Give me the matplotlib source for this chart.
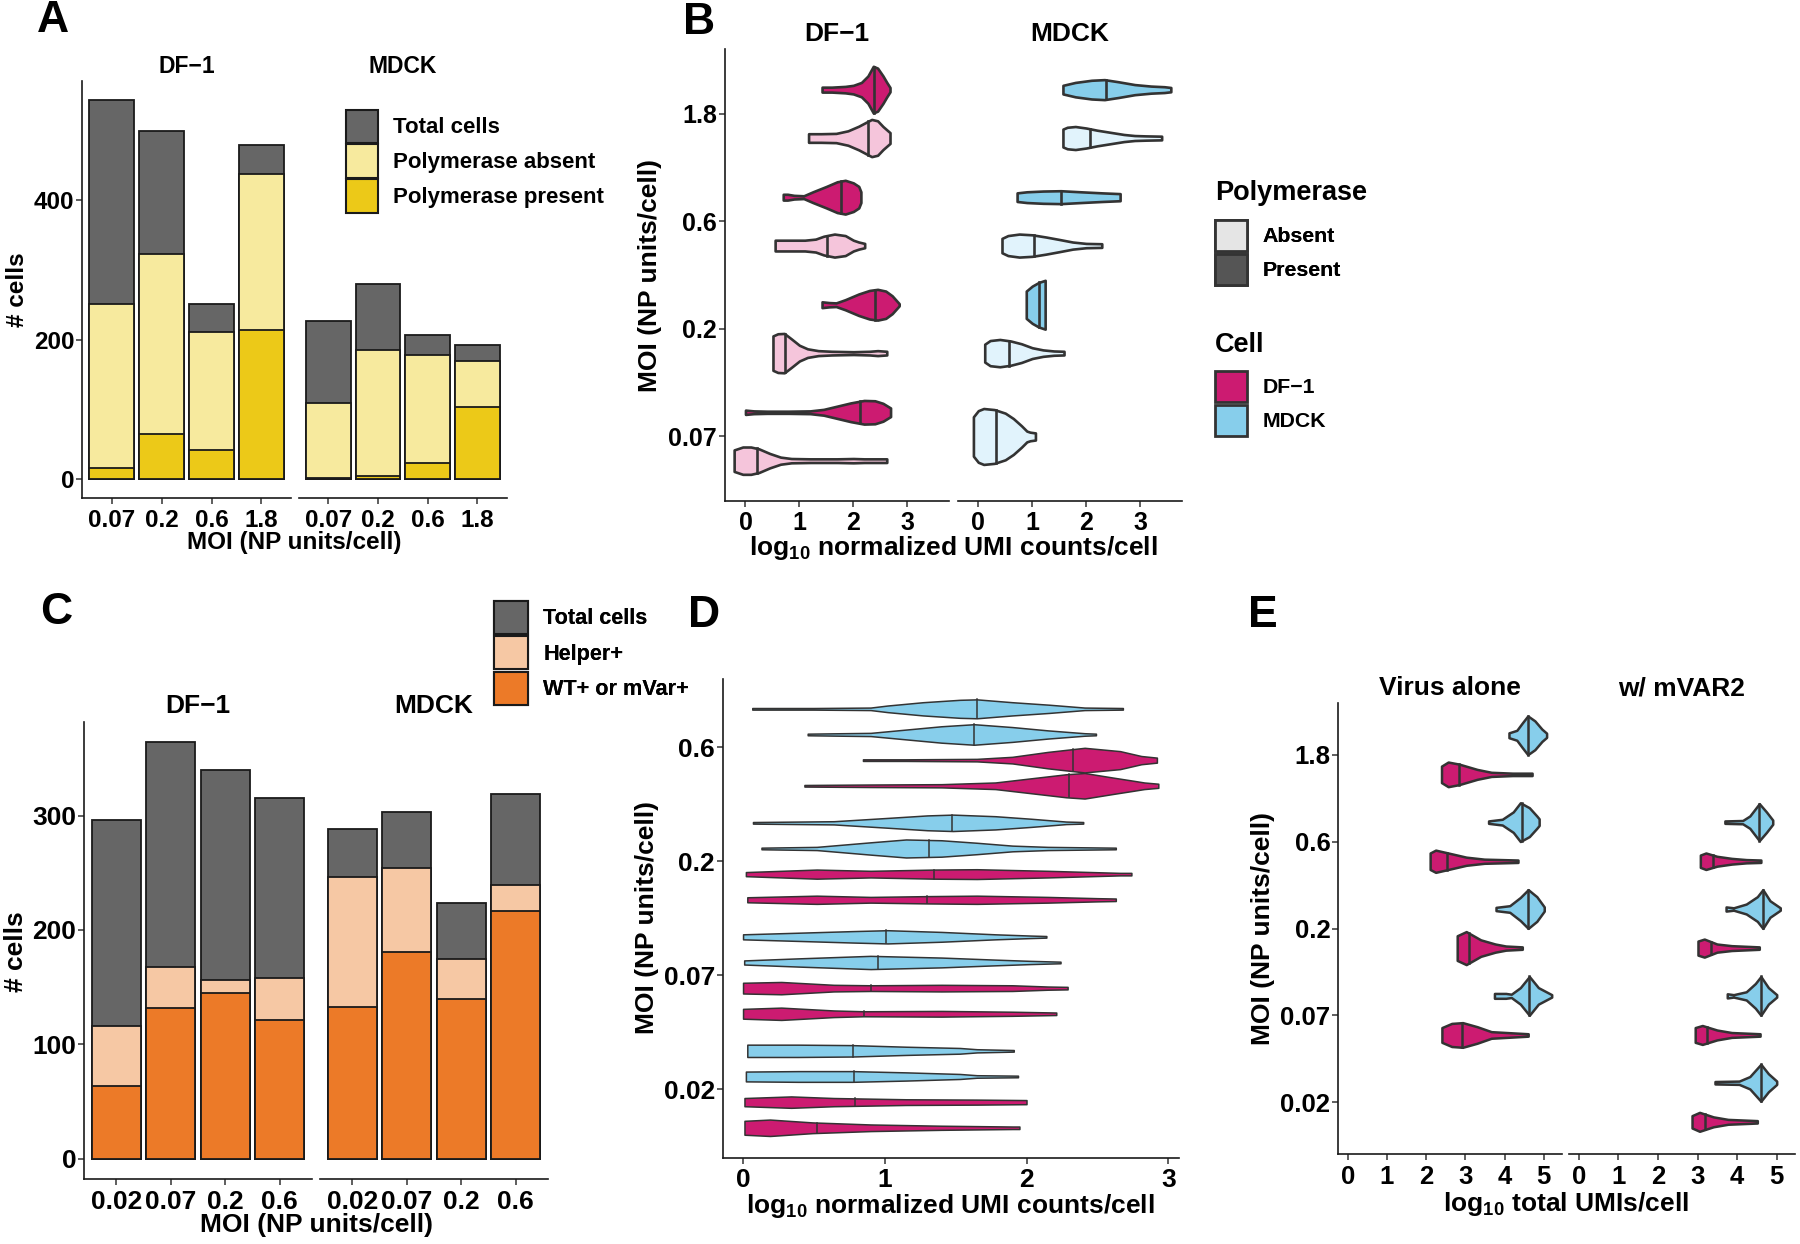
import numpy as np
import matplotlib
matplotlib.use("Agg")
from matplotlib import pyplot as plt
from matplotlib.patches import Patch

plt.rcParams['font.family'] = ['Liberation Sans', 'DejaVu Sans']
plt.rcParams['font.weight'] = 'bold'
plt.rcParams['axes.labelweight'] = 'bold'
plt.rcParams['mathtext.fontset'] = 'custom'
plt.rcParams['mathtext.rm'] = 'Liberation Sans:bold'
plt.rcParams['mathtext.it'] = 'Liberation Sans:bold'
plt.rcParams['mathtext.bf'] = 'Liberation Sans:bold'
plt.rcParams['mathtext.default'] = 'rm'

GREY = '#666666'
YEL_ABS, YEL_PRES = '#F7EA9E', '#ECC918'
ORG_HELP, ORG_WT = '#F6C8A4', '#EC7A28'
MAG, MAG_LIGHT = '#CC1B71', '#F5C5DB'
SKY, SKY_LIGHT = '#87CEEB', '#E1F3FC'
EDGE = '#333333'

# ---------------- panel A: cell counts, polymerase ----------------
a_moi = ['0.07', '0.2', '0.6', '1.8']
a_df1_total = [544, 500, 251, 479]
a_df1_absent = [251, 323, 211, 438]
a_df1_present = [16, 64, 42, 214]
a_mdck_total = [226, 280, 207, 192]
a_mdck_absent = [109, 185, 178, 169]
a_mdck_present = [1, 4, 23, 103]

# ---------------- panel B: violins, per MOI (0.07, 0.2, 0.6, 1.8) ----------------
b_moi = ['0.07', '0.2', '0.6', '1.8']
b_df1_pres_x = [[0.0, 0.15, 0.4, 0.8, 1.2, 1.45, 1.7, 1.95, 2.2, 2.4, 2.55, 2.69],
                [1.42, 1.55, 1.68, 1.85, 2.1, 2.3, 2.45, 2.6, 2.72, 2.85],
                [0.70, 0.78, 0.9, 1.08, 1.25, 1.5, 1.7, 1.85, 2.0, 2.1, 2.14],
                [1.42, 1.6, 1.85, 2.0, 2.15, 2.27, 2.37, 2.45, 2.55, 2.62, 2.68]]
b_df1_pres_w = [[0.02, 0.013, 0.01, 0.01, 0.013, 0.027, 0.057, 0.087, 0.11, 0.107, 0.083, 0.04],
                [0.027, 0.02, 0.017, 0.047, 0.1, 0.133, 0.143, 0.127, 0.083, 0.01],
                [0.027, 0.027, 0.017, 0.013, 0.05, 0.1, 0.143, 0.157, 0.133, 0.1, 0.05],
                [0.023, 0.023, 0.03, 0.04, 0.067, 0.127, 0.217, 0.2, 0.127, 0.067, 0.02]]
b_df1_pres_med = [2.13, 2.40, 1.78, 2.39]
b_df1_abs_x = [[-0.21, -0.05, 0.1, 0.25, 0.45, 0.65, 0.85, 1.2, 1.7, 2.0, 2.2, 2.62],
               [0.51, 0.6, 0.72, 0.85, 1.0, 1.15, 1.35, 1.6, 2.0, 2.3, 2.45, 2.62],
               [0.55, 0.8, 1.1, 1.3, 1.45, 1.65, 1.85, 2.0, 2.1, 2.21],
               [1.17, 1.4, 1.68, 1.9, 2.1, 2.25, 2.34, 2.45, 2.55, 2.68]]
b_df1_abs_w = [[0.1, 0.127, 0.127, 0.11, 0.067, 0.033, 0.02, 0.017, 0.017, 0.02, 0.017, 0.017],
               [0.16, 0.18, 0.183, 0.133, 0.073, 0.04, 0.023, 0.017, 0.013, 0.017, 0.023, 0.017],
               [0.05, 0.05, 0.05, 0.06, 0.087, 0.107, 0.093, 0.05, 0.033, 0.02],
               [0.04, 0.04, 0.043, 0.067, 0.11, 0.15, 0.173, 0.16, 0.107, 0.05]]
b_df1_abs_med = [0.21, 0.74, 1.51, 2.28]
b_mdck_pres_x = [None,
                 [0.89, 1.0, 1.12, 1.24],
                 [0.72, 0.9, 1.2, 1.53, 1.9, 2.3, 2.63],
                 [1.57, 1.8, 2.1, 2.34, 2.6, 2.9, 3.2, 3.45, 3.57]]
b_mdck_pres_w = [None,
                 [0.127, 0.173, 0.207, 0.227],
                 [0.04, 0.05, 0.057, 0.06, 0.05, 0.04, 0.033],
                 [0.04, 0.067, 0.087, 0.093, 0.073, 0.047, 0.033, 0.027, 0.02]]
b_mdck_pres_med = [None, 1.13, 1.53, 2.36]
b_mdck_abs_x = [[-0.09, 0.0, 0.1, 0.3, 0.5, 0.65, 0.8, 0.9, 0.96, 1.06],
                [0.12, 0.22, 0.4, 0.6, 0.8, 1.0, 1.2, 1.4, 1.59],
                [0.44, 0.55, 0.76, 1.0, 1.25, 1.5, 1.75, 2.0, 2.29],
                [1.57, 1.65, 1.8, 2.0, 2.2, 2.45, 2.7, 2.9, 3.1, 3.4]]
b_mdck_abs_w = [[0.183, 0.24, 0.26, 0.25, 0.217, 0.167, 0.1, 0.05, 0.04, 0.033],
                [0.083, 0.117, 0.127, 0.113, 0.087, 0.05, 0.03, 0.02, 0.017],
                [0.067, 0.093, 0.107, 0.1, 0.08, 0.057, 0.033, 0.02, 0.017],
                [0.083, 0.1, 0.107, 0.093, 0.073, 0.053, 0.033, 0.023, 0.02, 0.017]]
b_mdck_abs_med = [0.32, 0.57, 1.04, 2.07]

# ---------------- panel C: cell counts, helper / WT ----------------
c_moi = ['0.02', '0.07', '0.2', '0.6']
c_df1_total = [296, 364, 340, 315]
c_df1_helper = [116, 168, 156, 158]
c_df1_wt = [64, 132, 145, 121]
c_mdck_total = [288, 303, 224, 319]
c_mdck_helper = [246, 254, 175, 239]
c_mdck_wt = [133, 181, 140, 217]

# ---------------- panel D: violins, per MOI (0.02, 0.07, 0.2, 0.6) ----------------
d_moi = ['0.02', '0.07', '0.2', '0.6']
d_df1_b_x = [[0.01, 0.19, 0.49, 0.9, 1.4, 1.9, 1.95],
             [0.0, 0.27, 0.64, 0.85, 1.4, 1.9, 2.21],
             [0.03, 0.52, 0.9, 1.3, 1.65, 2.15, 2.5, 2.63],
             [0.433, 0.9, 1.4, 1.78, 2.03, 2.28, 2.41, 2.61, 2.76, 2.83, 2.93]]
d_df1_b_w = [[0.061, 0.072, 0.047, 0.029, 0.018, 0.011, 0.011],
             [0.043, 0.054, 0.029, 0.022, 0.025, 0.018, 0.011],
             [0.022, 0.036, 0.025, 0.032, 0.036, 0.025, 0.014, 0.011],
             [0.007, 0.011, 0.014, 0.029, 0.065, 0.101, 0.112, 0.072, 0.043, 0.029, 0.018]]
d_df1_b_med = [0.52, 0.85, 1.30, 2.30]
d_df1_a_x = [[0.01, 0.34, 0.64, 1.15, 1.65, 2.0],
             [0.0, 0.27, 0.64, 0.9, 1.4, 1.9, 2.15, 2.29],
             [0.02, 0.52, 0.9, 1.35, 1.65, 2.15, 2.66, 2.74],
             [0.846, 1.15, 1.65, 1.9, 2.15, 2.41, 2.66, 2.81, 2.92]]
d_df1_a_w = [[0.036, 0.05, 0.036, 0.025, 0.022, 0.018],
             [0.047, 0.054, 0.029, 0.025, 0.029, 0.025, 0.014, 0.011],
             [0.018, 0.04, 0.029, 0.04, 0.043, 0.029, 0.011, 0.011],
             [0.007, 0.007, 0.011, 0.029, 0.072, 0.108, 0.079, 0.036, 0.022]]
d_df1_a_med = [0.79, 0.90, 1.35, 2.33]
d_mdck_a_x = [[0.02, 0.39, 0.77, 1.15, 1.53, 1.65, 1.94],
              [0.008, 0.39, 0.9, 1.4, 1.78, 2.03, 2.24],
              [0.13, 0.52, 0.9, 1.15, 1.4, 1.65, 1.9, 2.15, 2.63],
              [0.456, 0.7, 0.9, 1.15, 1.4, 1.63, 1.9, 2.15, 2.41, 2.49]]
d_mdck_a_w = [[0.043, 0.047, 0.047, 0.036, 0.022, 0.011, 0.007],
              [0.018, 0.036, 0.058, 0.043, 0.025, 0.014, 0.007],
              [0.007, 0.014, 0.054, 0.079, 0.072, 0.05, 0.025, 0.014, 0.007],
              [0.007, 0.011, 0.014, 0.043, 0.072, 0.09, 0.065, 0.036, 0.011, 0.007]]
d_mdck_a_med = [0.78, 0.95, 1.31, 1.63]
d_mdck_b_x = [[0.03, 0.39, 0.77, 1.15, 1.53, 1.65, 1.91],
              [0.0, 0.39, 0.77, 1.02, 1.4, 1.78, 2.03, 2.14],
              [0.07, 0.64, 1.02, 1.3, 1.48, 1.78, 2.03, 2.28, 2.4],
              [0.065, 0.5, 0.9, 1.02, 1.27, 1.53, 1.65, 1.9, 2.16, 2.41, 2.68]]
d_mdck_b_w = [[0.054, 0.054, 0.05, 0.036, 0.025, 0.014, 0.007],
              [0.022, 0.036, 0.05, 0.058, 0.043, 0.022, 0.011, 0.007],
              [0.007, 0.014, 0.043, 0.065, 0.072, 0.058, 0.036, 0.011, 0.007],
              [0.007, 0.007, 0.011, 0.029, 0.058, 0.079, 0.083, 0.058, 0.036, 0.011, 0.007]]
d_mdck_b_med = [0.775, 1.01, 1.475, 1.65]

# ---------------- panel E: violins, per MOI (0.02, 0.07, 0.2, 0.6, 1.8) ----------------
e_moi = ['0.02', '0.07', '0.2', '0.6', '1.8']
e_va_df1_x = [None,
              [2.4, 2.65, 2.93, 3.3, 3.66, 4.6],
              [2.79, 3.02, 3.39, 3.76, 4.03, 4.45],
              [2.1, 2.24, 2.56, 3.02, 3.48, 4.34],
              [2.39, 2.56, 2.84, 3.3, 3.66, 4.2, 4.7]]
e_va_df1_w = [None,
              [0.085, 0.133, 0.142, 0.095, 0.038, 0.014],
              [0.142, 0.19, 0.095, 0.047, 0.024, 0.014],
              [0.095, 0.128, 0.095, 0.047, 0.024, 0.014],
              [0.095, 0.142, 0.118, 0.057, 0.024, 0.014, 0.014]]
e_va_df1_med = [None, 2.91, 3.08, 2.54, 2.84]
e_va_mdck_x = [None,
               [3.74, 4.03, 4.17, 4.4, 4.63, 4.86, 5.2],
               [3.78, 4.13, 4.4, 4.6, 4.82, 5.01],
               [3.59, 3.94, 4.22, 4.4, 4.63, 4.82, 4.88],
               [4.11, 4.31, 4.45, 4.59, 4.77, 4.95, 5.07]]
e_va_mdck_w = [None,
               [0.028, 0.028, 0.019, 0.095, 0.223, 0.095, 0.014],
               [0.019, 0.038, 0.133, 0.223, 0.142, 0.024],
               [0.014, 0.033, 0.118, 0.223, 0.166, 0.071, 0.038],
               [0.028, 0.057, 0.142, 0.223, 0.166, 0.071, 0.024]]
e_va_mdck_med = [None, 4.63, 4.60, 4.43, 4.59]
e_mv_df1_x = [[2.86, 3.05, 3.4, 3.77, 4.51],
              [2.94, 3.12, 3.49, 3.86, 4.58],
              [3.01, 3.17, 3.49, 3.86, 4.56],
              [3.07, 3.21, 3.49, 3.86, 4.23, 4.6],
              None]
e_mv_df1_w = [[0.071, 0.109, 0.057, 0.028, 0.014],
              [0.085, 0.109, 0.057, 0.028, 0.014],
              [0.081, 0.104, 0.047, 0.028, 0.014],
              [0.071, 0.095, 0.057, 0.033, 0.019, 0.014],
              None]
e_mv_df1_med = [3.19, 3.23, 3.35, 3.40, None]
e_mv_mdck_x = [[3.44, 4.05, 4.32, 4.6, 4.79, 5.0],
               [3.75, 3.91, 4.23, 4.46, 4.6, 4.79, 5.0],
               [3.72, 3.91, 4.23, 4.51, 4.65, 4.83, 5.09],
               [3.69, 4.14, 4.32, 4.56, 4.74, 4.9],
               None]
e_mv_mdck_w = [[0.014, 0.019, 0.071, 0.213, 0.104, 0.019],
               [0.024, 0.014, 0.047, 0.142, 0.223, 0.095, 0.014],
               [0.024, 0.014, 0.057, 0.142, 0.223, 0.095, 0.014],
               [0.014, 0.019, 0.071, 0.213, 0.118, 0.024],
               None]
e_mv_mdck_med = [4.60, 4.60, 4.65, 4.56, None]

W, H = 1800, 1244
fig = plt.figure(figsize=(18, 12.44), dpi=100)


def add_ax(x0, y0, x1, y1):
    return fig.add_axes([x0 / W, 1 - y1 / H, (x1 - x0) / W, (y1 - y0) / H])


def ftext(x, y, s, ha='center', **kw):
    fig.text(x / W, 1 - y / H, s, ha=ha, va='center', **kw)


def clean(ax, size, yaxis=True, xpad=3.5):
    ax.spines['top'].set_visible(False)
    ax.spines['right'].set_visible(False)
    for s in ('left', 'bottom'):
        ax.spines[s].set_linewidth(1.2)
        ax.spines[s].set_color('#1a1a1a')
    ax.tick_params(axis='both', length=4, width=1.1, color='#333333', labelsize=size)
    ax.tick_params(axis='x', pad=xpad)
    ax.tick_params(axis='y', pad=1.5)
    if not yaxis:
        ax.spines['left'].set_visible(False)
        ax.tick_params(axis='y', left=False, labelleft=False)


def strip(ax, s, y, size):
    ax.text(0.5, y, s, transform=ax.transAxes, ha='center', va='center', fontsize=size)


def bars(ax, layers, colours, labels):
    x = np.arange(len(labels))
    for vals, col in zip(layers, colours):
        ax.bar(x, vals, width=0.9, color=col, edgecolor='#1a1a1a', linewidth=1.3)
    ax.set_xticks(x, labels)
    ax.set_xlim(-0.6, len(labels) - 0.4)


def violin(ax, yc, xs, ws, med, colour, lw):
    xs = np.asarray(xs)
    ws = np.asarray(ws)
    ax.fill_between(xs, yc - ws, yc + ws, facecolor=colour, edgecolor=EDGE,
                    linewidth=lw, joinstyle='round', zorder=2)
    wm = np.interp(med, xs, ws)
    ax.plot([med, med], [yc - wm, yc + wm], color=EDGE, lw=lw, zorder=3)


def violin_pairs(ax, lower, upper, off, lw):
    # lower / upper: (xs list, ws list, med list, colour)
    n = len(lower[0])
    for i in range(n):
        lo = lower[0][i] is not None
        up = upper[0][i] is not None
        y = i + 1
        if lo:
            violin(ax, y - off if up else y, lower[0][i], lower[1][i], lower[2][i], lower[3], lw)
        if up:
            violin(ax, y + off if lo else y, upper[0][i], upper[1][i], upper[2][i], upper[3], lw)


def key_legend(handles, x, y, fs, hl, hh, ls, pad):
    return fig.legend(handles=handles, loc='upper left', bbox_to_anchor=(x / W, 1 - y / H),
                      frameon=False, fontsize=fs, handlelength=hl, handleheight=hh,
                      labelspacing=ls, handletextpad=pad, borderpad=0, borderaxespad=0)


# ======== A ========
a1 = add_ax(81.9, 81.4, 291.4, 497.5)
a2 = add_ax(298.5, 81.4, 507.3, 497.5)
for ax, lay in ((a1, (a_df1_total, a_df1_absent, a_df1_present)),
                (a2, (a_mdck_total, a_mdck_absent, a_mdck_present))):
    bars(ax, lay, (GREY, YEL_ABS, YEL_PRES), a_moi)
    ax.set_ylim(-26.7, 570.7)
    ax.set_yticks([0, 200, 400])
clean(a1, 17.5, xpad=4)
clean(a2, 17.5, yaxis=False, xpad=4)
strip(a1, 'DF\u22121', 1.037, 16.5)
strip(a2, 'MDCK', 1.037, 16.5)
ftext(294.6, 542.5, 'MOI (NP units/cell)', fontsize=17.5)
ftext(17.8, 290, '# cells', fontsize=17.5, rotation=90)
ftext(53, 21, 'A', fontsize=32)
key_legend([Patch(facecolor=GREY, edgecolor='#1a1a1a', lw=1.5, label='Total cells'),
            Patch(facecolor=YEL_ABS, edgecolor='#1a1a1a', lw=1.5, label='Polymerase absent'),
            Patch(facecolor=YEL_PRES, edgecolor='#1a1a1a', lw=1.5, label='Polymerase present')],
           346, 109.6, 16, 1.44, 1.95, 0.05, 0.68)

# ======== B ========
b1 = add_ax(724.7, 49.3, 948.8, 501)
b2 = add_ax(957.5, 49.3, 1181.6, 501)
violin_pairs(b1, (b_df1_abs_x, b_df1_abs_w, b_df1_abs_med, MAG_LIGHT),
             (b_df1_pres_x, b_df1_pres_w, b_df1_pres_med, MAG), 0.225, 1.9)
violin_pairs(b2, (b_mdck_abs_x, b_mdck_abs_w, b_mdck_abs_med, SKY_LIGHT),
             (b_mdck_pres_x, b_mdck_pres_w, b_mdck_pres_med, SKY), 0.225, 1.9)
for ax in (b1, b2):
    ax.set_xlim(-0.385, 3.77)
    ax.set_ylim(0.4, 4.6)
    ax.set_xticks([0, 1, 2, 3])
    ax.set_yticks([1, 2, 3, 4], b_moi)
clean(b1, 18)
clean(b2, 18, yaxis=False)
strip(b1, 'DF\u22121', 1.034, 19)
strip(b2, 'MDCK', 1.034, 19)
ftext(953, 548, 'log$_{10}$ normalized UMI counts/cell', fontsize=19)
ftext(650, 275, 'MOI (NP units/cell)', fontsize=19, rotation=90)
ftext(699, 22.5, 'B', fontsize=32)
ftext(1215, 193, 'Polymerase', ha='left', fontsize=19.5)
ftext(1215, 345, 'Cell', ha='left', fontsize=19.5)
fig.add_artist(key_legend([Patch(facecolor='#E5E5E5', edgecolor=EDGE, lw=2, label='Absent'),
                           Patch(facecolor='#555555', edgecolor=EDGE, lw=2, label='Present')],
                          1215, 220, 15.3, 1.5, 1.87, 0.14, 0.75))
key_legend([Patch(facecolor=MAG, edgecolor=EDGE, lw=2, label='DF\u22121'),
            Patch(facecolor=SKY, edgecolor=EDGE, lw=2, label='MDCK')],
           1215, 371, 15.3, 1.5, 1.87, 0.14, 0.75)

# ======== C ========
c1 = add_ax(83.8, 721.9, 312.4, 1179.3)
c2 = add_ax(319.5, 721.9, 548.4, 1179.3)
for ax, lay in ((c1, (c_df1_total, c_df1_helper, c_df1_wt)),
                (c2, (c_mdck_total, c_mdck_helper, c_mdck_wt))):
    bars(ax, lay, (GREY, ORG_HELP, ORG_WT), c_moi)
    ax.set_ylim(-17.8, 381.8)
    ax.set_yticks([0, 100, 200, 300])
clean(c1, 19)
clean(c2, 19, yaxis=False)
strip(c1, 'DF\u22121', 1.034, 19)
strip(c2, 'MDCK', 1.034, 19)
ftext(316, 1225, 'MOI (NP units/cell)', fontsize=19)
ftext(15.8, 952, '# cells', fontsize=19, rotation=90)
ftext(56, 613, 'C', fontsize=32)
fig.add_artist(key_legend([Patch(facecolor=GREY, edgecolor='#1a1a1a', lw=1.5, label='Total cells'),
                           Patch(facecolor=ORG_HELP, edgecolor='#1a1a1a', lw=1.5, label='Helper+'),
                           Patch(facecolor=ORG_WT, edgecolor='#1a1a1a', lw=1.5, label='WT+ or mVar+')],
                          494, 601, 15.6, 1.57, 1.96, 0.115, 0.7))

# ======== D ========
d = add_ax(722.5, 678.9, 1179, 1157.7)
groups_d = ((d_df1_b_x, d_df1_b_w, d_df1_b_med, MAG, -0.3375),
            (d_df1_a_x, d_df1_a_w, d_df1_a_med, MAG, -0.1125),
            (d_mdck_a_x, d_mdck_a_w, d_mdck_a_med, SKY, 0.1125),
            (d_mdck_b_x, d_mdck_b_w, d_mdck_b_med, SKY, 0.3375))
for xs_l, ws_l, med_l, col, off in groups_d:
    for i in range(len(d_moi)):
        violin(d, i + 1 + off, xs_l[i], ws_l[i], med_l[i], col, 1.1)
d.set_xlim(-0.145, 3.076)
d.set_ylim(0.4, 4.6)
d.set_xticks([0, 1, 2, 3])
d.set_yticks([1, 2, 3, 4], d_moi)
clean(d, 19)
ftext(950, 1205.5, 'log$_{10}$ normalized UMI counts/cell', fontsize=19)
ftext(646.8, 918, 'MOI (NP units/cell)', fontsize=19, rotation=90)
ftext(704, 616, 'D', fontsize=32)

# ======== E ========
e1 = add_ax(1338, 702.7, 1561.5, 1154.4)
e2 = add_ax(1569, 702.7, 1794.5, 1154.4)
violin_pairs(e1, (e_va_df1_x, e_va_df1_w, e_va_df1_med, MAG),
             (e_va_mdck_x, e_va_mdck_w, e_va_mdck_med, SKY), 0.225, 1.8)
violin_pairs(e2, (e_mv_df1_x, e_mv_df1_w, e_mv_df1_med, MAG),
             (e_mv_mdck_x, e_mv_mdck_w, e_mv_mdck_med, SKY), 0.225, 1.8)
for ax in (e1, e2):
    ax.set_xlim(-0.25, 5.45)
    ax.set_ylim(0.4, 5.6)
    ax.set_xticks([0, 1, 2, 3, 4, 5])
    ax.set_yticks([1, 2, 3, 4, 5], e_moi)
clean(e1, 18.5)
clean(e2, 18.5, yaxis=False)
strip(e1, 'Virus alone', 1.032, 19)
strip(e2, 'w/ mVAR2', 1.032, 19)
ftext(1566, 1204.5, 'log$_{10}$ total UMIs/cell', fontsize=19)
ftext(1262.7, 928.6, 'MOI (NP units/cell)', fontsize=19, rotation=90)
ftext(1263, 616, 'E', fontsize=32)

fig.savefig('out.png', dpi=100)
